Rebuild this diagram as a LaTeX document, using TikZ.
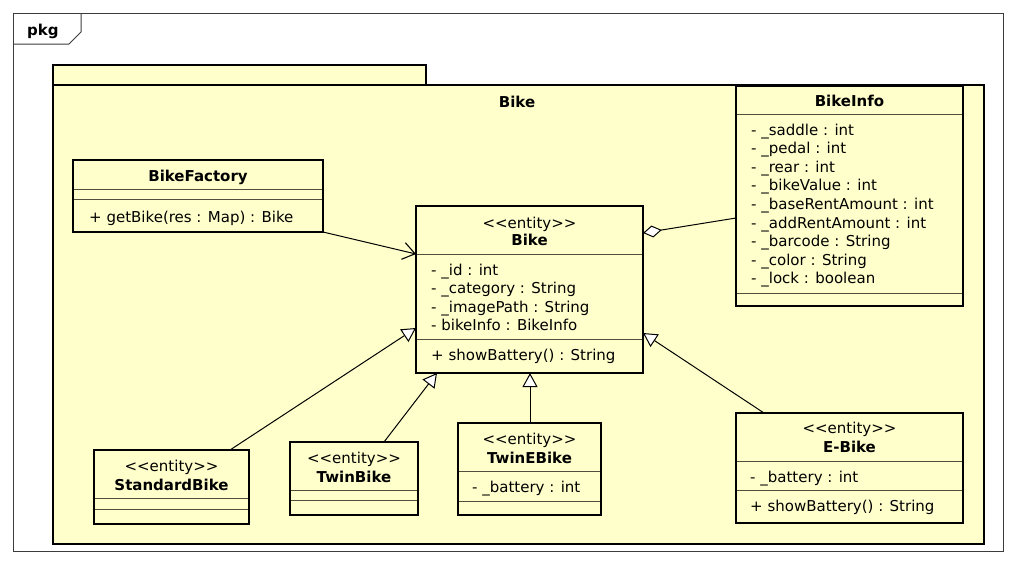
\documentclass[tikz,border=0pt]{standalone}
\usepackage{fontspec}
\setmainfont{DejaVu Sans}[Ligatures=TeXOff]
\usetikzlibrary{arrows.meta,calc}
\definecolor{umlfill}{RGB}{255,255,204}
\definecolor{sepcol}{RGB}{80,80,60}
\definecolor{framecol}{RGB}{60,60,60}
\newcommand\sepline[2]{\draw[sep] ($(#1.west |- 0,#2)+(1.4,0)$) -- ($(#1.east |- 0,#2)+(-1.4,0)$);}
\begin{document}
\begin{tikzpicture}[x=1pt,y=-1pt,
  every node/.style={font=\fontsize{15}{18}\selectfont},
  cls/.style={draw=black, line width=2.8pt, fill=umlfill, inner sep=0pt, outer sep=0pt, anchor=north west},
  pkgbox/.style={draw=black, line width=2.8pt, fill=umlfill, inner sep=0pt, outer sep=0pt, anchor=north west},
  sep/.style={draw=sepcol, line width=0.9pt},
  txt/.style={inner sep=0pt, anchor=base west},
  ttl/.style={inner sep=0pt, anchor=base, font=\fontsize{15}{18}\selectfont\bfseries},
  stereo/.style={inner sep=0pt, anchor=base},
  frame/.style={draw=framecol, line width=1pt},
  conn/.style={line width=1pt},
  gen/.style={conn, -{Triangle[length=14pt,width=15pt,fill=white,line width=1pt]}},
  dep/.style={conn, -{Straight Barb[length=12pt,width=17pt,line width=1.1pt]}},
  agg/.style={conn, {Diamond[length=19pt,width=12pt,fill=white,line width=1pt]}-}
]
\useasboundingbox[fill=white] (0,0) rectangle (1016,565);

% outer frame
\draw[frame] (13,13) rectangle (1003,551);
\draw[frame] (13,44) -- (69,44) -- (81,32) -- (81,13);
\node[inner sep=0pt, anchor=base west, font=\fontsize{15}{18}\selectfont\bfseries] (pkglabel) at (27,35) {pkg};

% package Bike
\node[pkgbox, anchor=south west, minimum width=373pt, minimum height=20pt] (pkgtab) at (53,85) {};
\node[pkgbox, minimum width=931pt, minimum height=459pt] (pkgbody) at (53,85) {};
\node[ttl] (pkgtitle) at (517,107) {Bike};

% BikeFactory
\node[cls, minimum width=250pt, minimum height=72pt] (factory) at (73,160) {};
\sepline{factory}{189}
\sepline{factory}{199}
\node[ttl] (factoryname) at (198,181) {BikeFactory};
\node[txt] (factorym1) at (89,222) {+ getBike(res : Map) : Bike};

% Bike
\node[cls, minimum width=227pt, minimum height=167pt] (bike) at (416,206) {};
\sepline{bike}{254}
\sepline{bike}{339}
\node[stereo] (bikest) at (529.5,228) {<<entity>>};
\node[ttl] (bikename) at (529.5,245) {Bike};
\node[txt] (bikea1) at (431,275) {- \_id : int};
\node[txt] (bikea2) at (431,293.5) {- \_category : String};
\node[txt] (bikea3) at (431,312) {- \_imagePath : String};
\node[txt] (bikea4) at (431,330.5) {- bikeInfo : BikeInfo};
\node[txt] (bikem1) at (431,360) {+ showBattery() : String};

% BikeInfo
\node[cls, minimum width=227pt, minimum height=220pt] (binfo) at (736,86) {};
\sepline{binfo}{114}
\sepline{binfo}{293}
\node[ttl] (binfoname) at (849.5,106) {BikeInfo};
\node[txt] (binfoa1) at (751,135) {- \_saddle : int};
\node[txt] (binfoa2) at (751,153.6) {- \_pedal : int};
\node[txt] (binfoa3) at (751,172.2) {- \_rear : int};
\node[txt] (binfoa4) at (751,190.8) {- \_bikeValue : int};
\node[txt] (binfoa5) at (751,209.4) {- \_baseRentAmount : int};
\node[txt] (binfoa6) at (751,228) {- \_addRentAmount : int};
\node[txt] (binfoa7) at (751,246.6) {- \_barcode : String};
\node[txt] (binfoa8) at (751,265.2) {- \_color : String};
\node[txt] (binfoa9) at (751,283.8) {- \_lock : boolean};

% StandardBike
\node[cls, minimum width=155pt, minimum height=74pt] (stdbike) at (94,450) {};
\sepline{stdbike}{498.5}
\sepline{stdbike}{509}
\node[stereo] (stdbikest) at (171.5,471) {<<entity>>};
\node[ttl] (stdbikename) at (171.5,490) {StandardBike};

% TwinBike
\node[cls, minimum width=128pt, minimum height=73pt] (twinbike) at (290,442) {};
\sepline{twinbike}{490}
\sepline{twinbike}{500.5}
\node[stereo] (twinbikest) at (354,463) {<<entity>>};
\node[ttl] (twinbikename) at (354,482) {TwinBike};

% TwinEBike
\node[cls, minimum width=143pt, minimum height=92pt] (twinebike) at (458,423) {};
\sepline{twinebike}{471}
\sepline{twinebike}{501.5}
\node[stereo] (twinebikest) at (529.5,444.5) {<<entity>>};
\node[ttl] (twinebikename) at (529.5,463.5) {TwinEBike};
\node[txt] (twinebikea1) at (472,492) {- \_battery : int};

% E-Bike
\node[cls, minimum width=227pt, minimum height=110pt] (ebike) at (736,413) {};
\sepline{ebike}{461.5}
\sepline{ebike}{490}
\node[stereo] (ebikest) at (849.5,433) {<<entity>>};
\node[ttl] (ebikename) at (849.5,452.5) {E-Bike};
\node[txt] (ebikea1) at (750,482.5) {- \_battery : int};
\node[txt] (ebikem1) at (750,511.5) {+ showBattery() : String};

% connectors
\draw[dep] (factory.south east) -- (bike.west |- 0,254);
\draw[agg] (bike.east |- 0,233) -- (binfo.west |- 0,218);
\draw[gen] (stdbike.north -| 230,0) -- (bike.west |- 0,328);
\draw[gen] (twinbike.north -| 384,0) -- (bike.south -| 437,0);
\draw[gen] (twinebike.north -| 530,0) -- (bike.south -| 530,0);
\draw[gen] (ebike.north -| 764,0) -- (bike.east |- 0,333);
\end{tikzpicture}
\end{document}
